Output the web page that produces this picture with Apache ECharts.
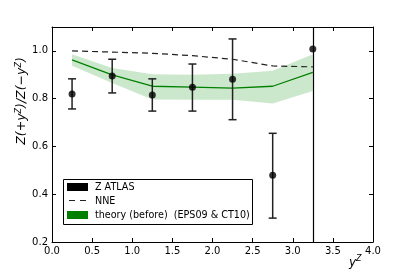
<!DOCTYPE html>
<html><head><meta charset="utf-8">
<script src="https://cdn.jsdelivr.net/npm/echarts@6/dist/echarts.min.js"></script>
<style>html,body{margin:0;padding:0;background:#fff}#c{width:415px;height:277px}</style>
</head><body><div id="c"></div>
<script>
const xVals = [0.25, 0.75, 1.25, 1.75, 2.25, 2.75, 3.25];
const atlas = [0.82, 0.895, 0.815, 0.848, 0.881, 0.479, 1.008];
const atlasLo = [0.757, 0.824, 0.748, 0.748, 0.712, 0.30, null];
const atlasHi = [0.883, 0.965, 0.883, 0.945, 1.05, 0.655, null];
const nne = [1.0, 0.995, 0.99, 0.98, 0.965, 0.937, 0.933];
const theory = [0.962, 0.90, 0.852, 0.848, 0.844, 0.852, 0.91];
const theoryLo = [0.938, 0.866, 0.797, 0.795, 0.795, 0.78, 0.832];
const theoryHi = [0.986, 0.928, 0.902, 0.90, 0.904, 0.917, 0.986];
const xTicks = [0.0, 0.5, 1.0, 1.5, 2.0, 2.5, 3.0, 3.5, 4.0];
const yTicks = [0.2, 0.4, 0.6, 0.8, 1.0];
const cutX = 3.25;

const FONT = 'DejaVu Sans';
const chart = echarts.init(document.getElementById('c'), null, {renderer: 'canvas'});
const axisCommon = {
  min: 0, max: 4, interval: 0.5,
  axisLine: {show: true, onZero: false, lineStyle: {color: '#000', width: 1}},
  axisTick: {show: true, inside: true, length: 4, lineStyle: {color: '#000'}},
  splitLine: {show: false}
};
const yCommon = {
  min: 0.2, max: 1.1, interval: 0.2,
  axisLine: {show: true, onZero: false, lineStyle: {color: '#000', width: 1}},
  axisTick: {show: true, inside: true, length: 4, lineStyle: {color: '#000'}},
  splitLine: {show: false}
};
const bandData = xVals.map((x, i) => [x, theoryLo[i], theoryHi[i]]);
const errData = xVals.map((x, i) => [x, atlasLo[i], atlasHi[i]]).filter(d => d[1] != null);

chart.setOption({
  animation: false,
  grid: {left: 52, right: 42, top: 27, bottom: 35},
  xAxis: [
    Object.assign({}, axisCommon, {type: 'value', position: 'bottom',
      axisLabel: {show: true, fontFamily: FONT, fontSize: 10, color: '#000', margin: 4,
        formatter: v => v.toFixed(1)}}),
    Object.assign({}, axisCommon, {type: 'value', position: 'top', axisLabel: {show: false}})
  ],
  yAxis: [
    Object.assign({}, yCommon, {type: 'value', position: 'left',
      axisLabel: {show: true, fontFamily: FONT, fontSize: 10, color: '#000', margin: 4,
        formatter: v => (Math.abs(v - 1.1) < 1e-6 ? '' : v.toFixed(1))}}),
    Object.assign({}, yCommon, {type: 'value', position: 'right', axisLabel: {show: false}})
  ],
  series: [
    {type: 'custom', z: 1, silent: true, data: bandData,
      renderItem: function (params, api) {
        if (params.dataIndex !== 0) return null;
        const pts = [];
        for (let i = 0; i < bandData.length; i++) pts.push(api.coord([bandData[i][0], bandData[i][2]]));
        for (let i = bandData.length - 1; i >= 0; i--) pts.push(api.coord([bandData[i][0], bandData[i][1]]));
        return {type: 'polygon', shape: {points: pts}, style: {fill: 'rgba(0,140,0,0.2)'}};
      }},
    {type: 'line', data: xVals.map((x, i) => [x, theory[i]]), symbol: 'none',
      lineStyle: {color: '#008000', width: 1.3}, z: 2},
    {type: 'line', data: xVals.map((x, i) => [x, nne[i]]), symbol: 'none',
      lineStyle: {color: '#222', width: 1.2, type: [6, 4]}, z: 3},
    {type: 'custom', z: 4, data: errData,
      renderItem: function (params, api) {
        const x = api.value(0);
        const top = api.coord([x, api.value(2)]);
        const bot = api.coord([x, api.value(1)]);
        const cw = 4;
        const st = {stroke: '#222', lineWidth: 1.5};
        return {type: 'group', children: [
          {type: 'line', shape: {x1: top[0], y1: top[1], x2: bot[0], y2: bot[1]}, style: st},
          {type: 'line', shape: {x1: top[0] - cw, y1: top[1], x2: top[0] + cw, y2: top[1]}, style: st},
          {type: 'line', shape: {x1: bot[0] - cw, y1: bot[1], x2: bot[0] + cw, y2: bot[1]}, style: st}
        ]};
      }},
    {type: 'scatter', data: xVals.map((x, i) => [x, atlas[i]]), symbol: 'circle', symbolSize: 7,
      itemStyle: {color: '#000'}, z: 5,
      markLine: {silent: true, symbol: 'none', label: {show: false},
        lineStyle: {color: '#000', width: 1.2, type: 'solid'},
        data: [{xAxis: cutX}]}}
  ],
  graphic: [
    {type: 'text', x: 22, y: 101, rotation: Math.PI / 2,
      style: {text: 'Z(+y{s|Z})/Z(−y{s|Z})', font: 'italic 12.5px ' + FONT, fill: '#000',
        align: 'center', verticalAlign: 'middle',
        rich: {s: {fontSize: 8, fontStyle: 'italic', fontFamily: FONT, padding: [0,0,7,0]}}}},
    {type: 'text', left: 349, top: 255,
      style: {text: 'y{s|Z}', font: 'italic 12px ' + FONT, fill: '#000',
        rich: {s: {fontSize: 8, fontStyle: 'italic', fontFamily: FONT, padding: [0,0,8,0]}}}},
    {type: 'rect', shape: {x: 63.5, y: 179.5, width: 189, height: 45},
      style: {fill: '#fff', stroke: '#000', lineWidth: 1}, z: 10},
    {type: 'rect', shape: {x: 67, y: 183, width: 21, height: 8}, style: {fill: '#000'}, z: 11},
    {type: 'line', shape: {x1: 69, y1: 200.5, x2: 88, y2: 200.5},
      style: {stroke: '#222', lineWidth: 1.2, lineDash: [6, 5]}, z: 11},
    {type: 'rect', shape: {x: 67, y: 211, width: 21, height: 8}, style: {fill: '#008000'}, z: 11},
    {type: 'text', x: 95, y: 187, style: {text: 'Z ATLAS', font: '9.6px ' + FONT, fill: '#000', textVerticalAlign: 'middle'}, z: 11},
    {type: 'text', x: 95, y: 201, style: {text: 'NNE', font: '9.6px ' + FONT, fill: '#000', textVerticalAlign: 'middle'}, z: 11},
    {type: 'text', x: 95, y: 215.5, style: {text: 'theory (before)  (EPS09 & CT10)', font: '9.6px ' + FONT, fill: '#000', textVerticalAlign: 'middle'}, z: 11}
  ]
});
</script></body></html>
